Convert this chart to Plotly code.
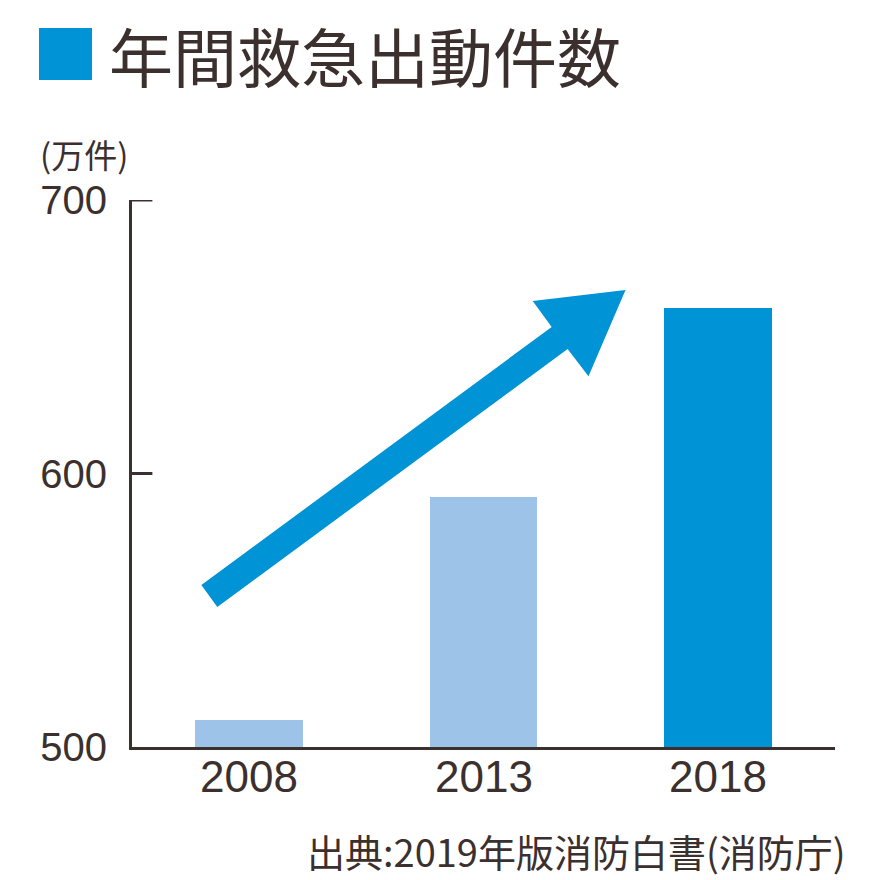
# 年間救急出動件数 棒グラフ
import plotly.graph_objects as go

# データ
years = ["2008", "2013", "2018"]
counts = [509.7, 591.5, 660.5]     # 万件
y_ticks = [500, 600, 700]

# 色
C_BLUE  = "#0093D6"
C_LIGHT = "#9DC3E8"
C_TEXT  = "#3B302E"
C_AXIS  = "#3B302E"

bar_colors = [C_LIGHT, C_LIGHT, C_BLUE]
x_pos = list(range(len(years)))

fig = go.Figure()

fig.add_trace(go.Bar(
    x=x_pos, y=counts,
    marker=dict(color=bar_colors, line=dict(width=0)),
    width=0.46,
    base=0,
    showlegend=False,
    hoverinfo="skip",
))

# 右上がりの矢印（装飾）
arrow_pts = [(-0.136, 551.2), (1.359, 645.5), (1.448, 635.6), (1.606, 667.1),
             (1.210, 663.1), (1.291, 653.6), (-0.204, 559.2)]
path = "M " + " L ".join(f"{x},{y}" for x, y in arrow_pts) + " Z"
fig.add_shape(type="path", path=path, xref="x", yref="y",
              fillcolor=C_BLUE, line=dict(width=0), layer="above")

# y軸の内向き目盛り
for v in y_ticks[1:]:
    fig.add_shape(type="line", xref="paper", yref="y",
                  x0=0, x1=0.029, y0=v, y1=v,
                  line=dict(color=C_AXIS, width=3))

# タイトル左の四角
fig.add_shape(type="rect", xref="paper", yref="paper",
              x0=-0.1323, x1=-0.0569, y0=1.2194, y1=1.3144,
              fillcolor=C_BLUE, line=dict(width=0))

fig.add_annotation(
    text="年間救急出動件数", xref="paper", yref="paper",
    x=-0.0355, y=1.267, xanchor="left", yanchor="middle",
    showarrow=False,
    font=dict(size=64, color=C_TEXT, family="Noto Sans CJK JP"),
)

fig.add_annotation(
    text="(万件)", xref="paper", yref="paper",
    x=-0.1337, y=1.084, xanchor="left", yanchor="middle",
    showarrow=False,
    font=dict(size=33, color=C_TEXT, family="Noto Sans CJK JP"),
)

fig.add_annotation(
    text="出典:2019年版消防白書(消防庁)", xref="paper", yref="paper",
    x=1.0185, y=-0.190, xanchor="right", yanchor="middle",
    showarrow=False,
    font=dict(size=38, color=C_TEXT, family="Noto Sans CJK JP"),
)

# 年ラベル（軸の直下に配置）
for xp, yr in zip(x_pos, years):
    fig.add_annotation(
        text=yr, x=xp, xref="x", y=-0.0548, yref="paper",
        xanchor="center", yanchor="middle", showarrow=False,
        font=dict(size=44, color=C_TEXT, family="Liberation Sans"),
    )

fig.update_layout(
    width=872, height=872,
    plot_bgcolor="white",
    paper_bgcolor="white",
    margin=dict(l=124, r=45, t=192, b=133),
    bargap=0,
    xaxis=dict(
        range=[-0.5, 2.5],
        tickvals=x_pos, showticklabels=False,
        showline=True, linecolor=C_AXIS, linewidth=3,
        showgrid=False, zeroline=False, ticks="",
    ),
    yaxis=dict(
        range=[500, 700],
        tickvals=y_ticks,
        showline=True, linecolor=C_AXIS, linewidth=3,
        showgrid=False, zeroline=False, ticks="",
        tickfont=dict(size=40, color=C_TEXT, family="Liberation Sans"),
        ticklabelstandoff=14,
    ),
)

fig.write_html("out.html")
